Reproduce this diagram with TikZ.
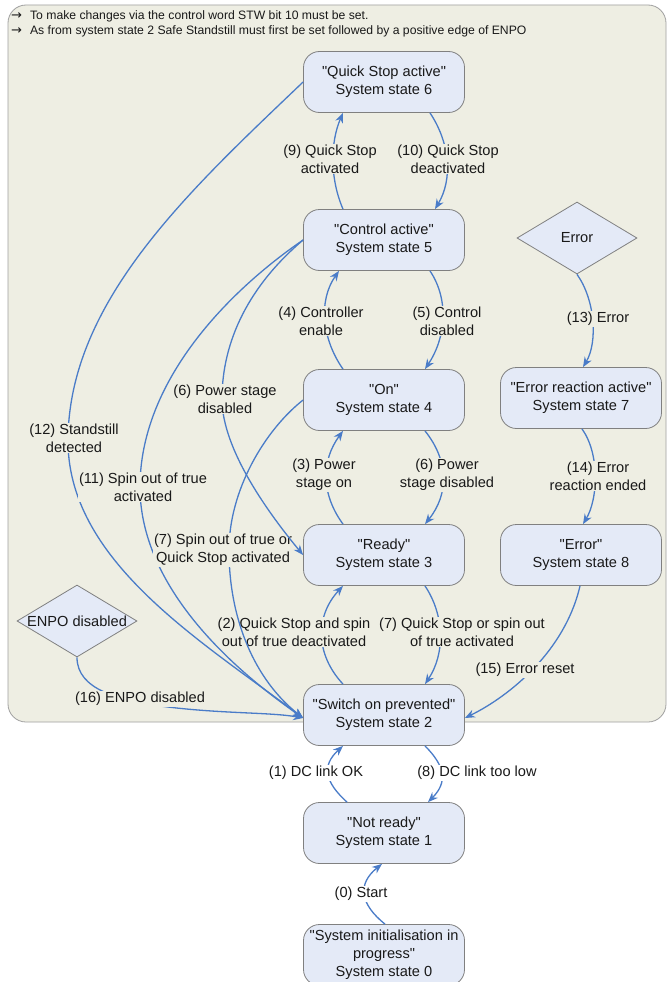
\documentclass[tikz,border=0pt]{standalone}
\usepackage{fontspec}
\setmainfont{Liberation Sans}
\newfontfamily\lsans{Liberation Sans}
\newfontfamily\arrowfont{DejaVu Sans}
\usetikzlibrary{arrows.meta,shapes.geometric,calc}
\definecolor{panelbg}{RGB}{238,238,227}
\definecolor{panelln}{RGB}{160,160,160}
\definecolor{nodebg}{RGB}{228,234,247}
\definecolor{nodeln}{RGB}{128,128,128}
\definecolor{edgeclr}{RGB}{74,124,200}
\definecolor{txt}{RGB}{25,25,25}
\begin{document}
\begin{tikzpicture}[x=1pt,y=-1pt,
  state/.style={draw=nodeln, line width=0.8pt, fill=nodebg, rounded corners=16pt,
    minimum width=161pt, minimum height=61pt, align=center,
    font=\lsans\fontsize{14.6}{18}\selectfont, text=txt, inner sep=2pt},
  decision/.style={diamond, draw=nodeln, line width=0.8pt, fill=nodebg, aspect=1.67,
    minimum width=120pt, minimum height=72pt, inner sep=0pt,
    font=\lsans\fontsize{14.6}{18}\selectfont, text=txt},
  tr/.style={draw=edgeclr, line width=1.3pt,
    -{Stealth[length=10pt,width=8pt]}},
  lbl/.style={fill=panelbg, align=center, font=\lsans\fontsize{14.6}{18}\selectfont,
    text=txt, inner sep=1pt},
  lblw/.style={lbl, fill=white},
  hdr/.style={anchor=west, font=\lsans\fontsize{12.2}{14}\selectfont, text=txt, inner sep=0pt}
]
\useasboundingbox (0,0) rectangle (667,982);
\fill[white] (0,0) rectangle (667,982);
% panel
\draw[draw=panelln, fill=panelbg, line width=0.8pt, rounded corners=18pt]
  (8,5) rectangle (666,722);
\node[hdr] (h1) at (11,16) {{\arrowfont\fontsize{13}{14}\selectfont →}\hspace{8pt}To make changes via the control word STW bit 10 must be set.};
\node[hdr] (h2) at (11,31) {{\arrowfont\fontsize{13}{14}\selectfont →}\hspace{8pt}As from system state 2 Safe Standstill must first be set followed by a positive edge of ENPO};

% states
\node[state] (s6) at (384,82) {"Quick Stop active"\\System state 6};
\node[state] (s5) at (384,240) {"Control active"\\System state 5};
\node[state] (s4) at (384,400) {"On"\\System state 4};
\node[state] (s3) at (384,555) {"Ready"\\System state 3};
\node[state] (s2) at (384,715) {"Switch on prevented"\\System state 2};
\node[state] (s1) at (384,833) {"Not ready"\\System state 1};
\node[state] (s0) at (384,955) {"System initialisation in\\progress"\\System state 0};
\node[state] (s7) at (581,398) {"Error reaction active"\\System state 7};
\node[state] (s8) at (581,555) {"Error"\\System state 8};
\node[decision] (err) at (577,238) {Error};
\node[decision] (enpo) at (77,621) {ENPO disabled};

% vertical pairs
\draw[tr] ([xshift=-41pt]s5.north) .. controls +(-13,-30) and +(-13,30) .. ([xshift=-41pt]s6.south)
  node[lbl] (l9) at (330,159) {(9) Quick Stop\\activated};
\draw[tr] ([xshift=46pt]s6.south) .. controls +(20,30) and +(18,-30) .. ([xshift=51pt]s5.north)
  node[lbl] (l10) at (448,159) {(10) Quick Stop\\deactivated};
\draw[tr] ([xshift=-41pt]s4.north) .. controls +(-21,-30) and +(-21,30) .. ([xshift=-45pt]s5.south)
  node[lbl] (l4) at (321,321) {(4) Controller\\enable};
\draw[tr] ([xshift=46pt]s5.south) .. controls +(20,30) and +(20,-30) .. ([xshift=41pt]s4.north)
  node[lbl] (l5) at (447,321) {(5) Control\\disabled};
\draw[tr] ([xshift=-41pt]s3.north) .. controls +(-22,-30) and +(-22,30) .. ([xshift=-41pt]s4.south)
  node[lbl] (l3) at (324,475) {(3) Power\\stage on};
\draw[tr] ([xshift=41pt]s4.south) .. controls +(24,30) and +(24,-30) .. ([xshift=41pt]s3.north)
  node[lbl] (l6r) at (447,475) {(6) Power\\stage disabled};
\draw[tr] ([xshift=-41pt]s2.north) .. controls +(-28,-30) and +(-28,30) .. ([xshift=-41pt]s3.south)
  node[lbl] (l2) at (294,632) {(2) Quick Stop and spin\\out of true deactivated};
\draw[tr] ([xshift=41pt]s3.south) .. controls +(20,30) and +(20,-30) .. ([xshift=41pt]s2.north)
  node[lbl] (l7r) at (462,632) {(7) Quick Stop or spin out\\of true activated};
\draw[tr] ([xshift=-37pt]s1.north) .. controls +(-22,-20) and +(-22,20) .. ([xshift=-41pt]s2.south)
  node[lblw] (l1) at (316,773) {(1) DC link OK};
\draw[tr] ([xshift=41pt]s2.south) .. controls +(20,20) and +(20,-20) .. ([xshift=44pt]s1.north)
  node[lblw] (l8) at (477,773) {(8) DC link too low};
\draw[tr] ([xshift=1pt]s0.north) .. controls +(-25,-20) and +(-25,20) .. ([xshift=-2pt]s1.south)
  node[lblw] (l0) at (361,894) {(0) Start};

% error branch
\draw[tr] (err.south) .. controls +(18,25) and +(15,-25) .. ([xshift=2pt]s7.north)
  node[lbl] (l13) at (598,319) {(13) Error};
\draw[tr] ([xshift=1pt]s7.south) .. controls +(18,25) and +(15,-25) .. ([xshift=2pt]s8.north)
  node[lbl] (l14) at (598,476) {(14) Error\\reaction ended};
\draw[tr] ([xshift=-1pt]s8.south) .. controls +(-15,65) and +(45,-22) .. ([yshift=-3pt]s2.east)
  node[lbl] (l15) at (525,670) {(15) Error reset};

% long left curves
\draw[tr] (s6.west) .. controls (190,190) and (70,300) .. (68,438)
  .. controls (66,560) and (200,640) .. ([yshift=-3pt]s2.west)
  node[lbl] (l12) at (74,438) {(12) Standstill\\detected};
\draw[tr] (s5.west) .. controls (230,290) and (140,380) .. (140,487)
  .. controls (140,580) and (220,660) .. ([yshift=-3pt]s2.west)
  node[lbl] (l11) at (143,487) {(11) Spin out of true\\activated};
\draw[tr] (s4.west) .. controls (265,430) and (229,490) .. (229,550)
  .. controls (229,620) and (255,680) .. ([yshift=-3pt]s2.west)
  node[lbl] (l7l) at (223,550) {(7) Spin out of true or\\Quick Stop activated};
\draw[tr] (s5.west) .. controls (250,285) and (222,340) .. (222,399)
  .. controls (222,450) and (270,515) .. (s3.west)
  node[lbl] (l6l) at (225,399) {(6) Power stage\\disabled};
\draw[tr] (enpo.south) .. controls (77,690) and (120,700) .. (160,706)
  .. controls (220,714) and (270,712) .. ([yshift=-3pt]s2.west)
  node[lbl] (l16) at (140,699) {(16) ENPO disabled};
\end{tikzpicture}
\end{document}
